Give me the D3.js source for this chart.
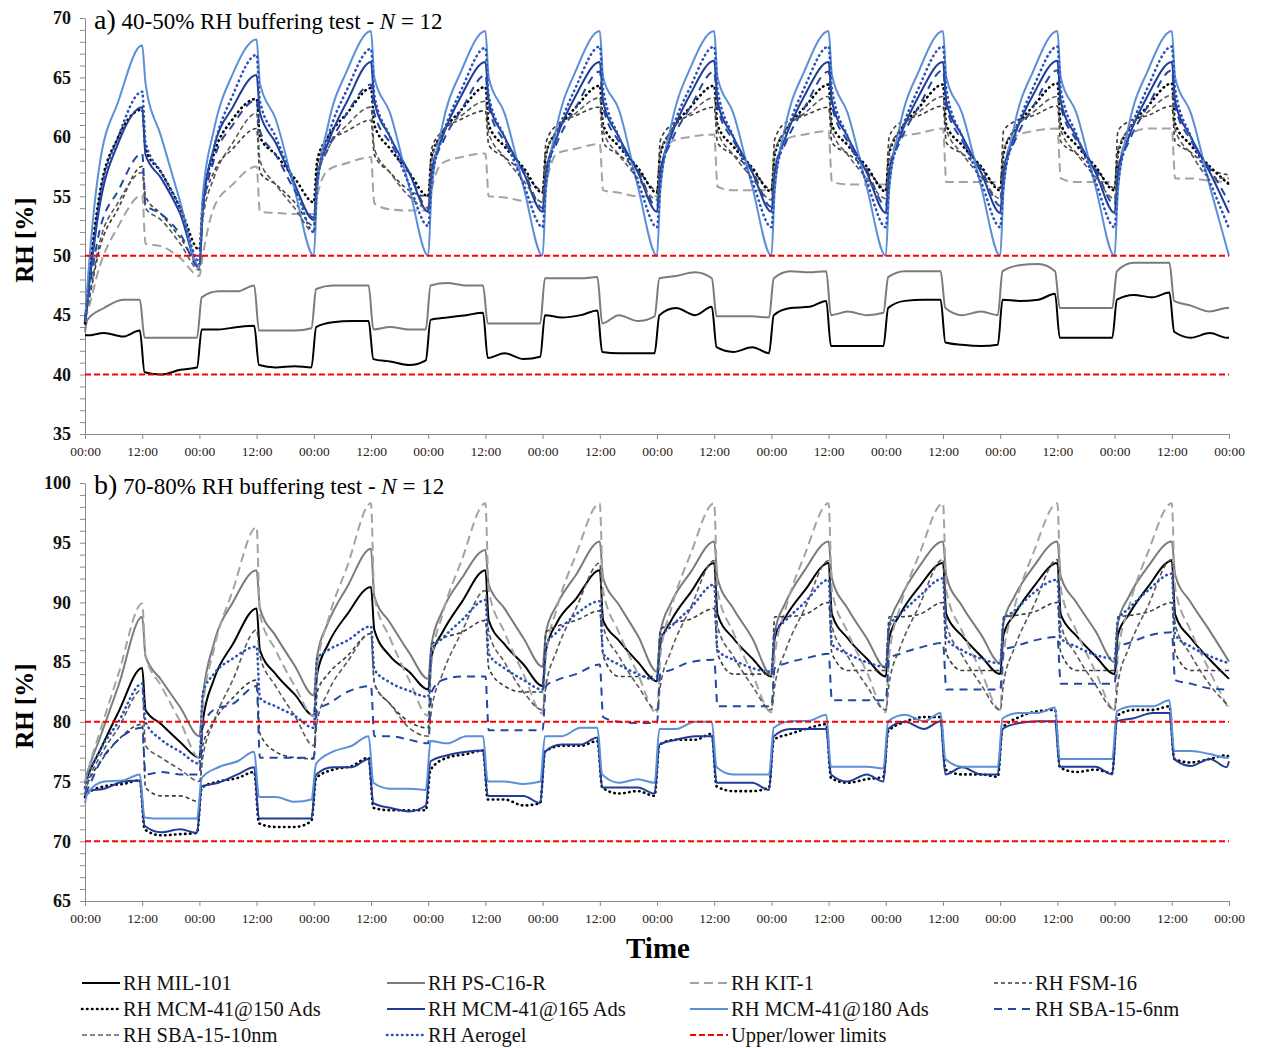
<!DOCTYPE html>
<html>
<head>
<meta charset="utf-8">
<script src="https://cdn.jsdelivr.net/npm/d3@7"></script>
<style>
  body { margin: 0; background: #ffffff; }
  svg text { font-family: "Liberation Serif", "Times New Roman", serif; }
</style>
</head>
<body>
<svg id="chart" width="1263" height="1048"></svg>
<script>
// ---- Time bases (hours since start of the 10-day test) ----
const sawHours = [
  0,0.7,3,7,12,12.7,16,20,
  24,24.7,27,31,36,36.7,40,44,
  48,48.7,51,55,60,60.7,64,68,
  72,72.7,75,79,84,84.7,88,92,
  96,96.7,99,103,108,108.7,112,116,
  120,120.7,123,127,132,132.7,136,140,
  144,144.7,147,151,156,156.7,160,164,
  168,168.7,171,175,180,180.7,184,188,
  192,192.7,195,199,204,204.7,208,212,
  216,216.7,219,223,228,228.7,232,236,
  240];
const sqHours = [
  0,
  0.5,4,8,11.5,12.5,16,20,23.5,
  24.5,28,32,35.5,36.5,40,44,47.5,
  48.5,52,56,59.5,60.5,64,68,71.5,
  72.5,76,80,83.5,84.5,88,92,95.5,
  96.5,100,104,107.5,108.5,112,116,119.5,
  120.5,124,128,131.5,132.5,136,140,143.5,
  144.5,148,152,155.5,156.5,160,164,167.5,
  168.5,172,176,179.5,180.5,184,188,191.5,
  192.5,196,200,203.5,204.5,208,212,215.5,
  216.5,220,224,227.5,228.5,232,236,239.5,
  240];
const tickHours = [0,12,24,36,48,60,72,84,96,108,120,132,144,156,168,180,192,204,216,228,240];
const tickLabels = ["00:00","12:00","00:00","12:00","00:00","12:00","00:00","12:00","00:00","12:00","00:00",
                    "12:00","00:00","12:00","00:00","12:00","00:00","12:00","00:00","12:00","00:00"];

// ---- a) 40-50% RH test ----
const aMIL = [43.3,
  43.3,43.5,43.2,43.7,40.2,40.0,40.4,40.6,
  43.8,43.8,44.0,44.1,40.8,40.6,40.7,40.6,
  44.0,44.4,44.5,44.5,41.3,41.1,40.8,41.2,
  44.6,44.8,45.0,45.2,41.4,41.8,41.3,41.5,
  45.0,44.8,45.0,45.4,41.9,41.8,41.8,41.8,
  45.0,45.6,45.0,45.7,42.3,41.9,42.3,41.8,
  45.0,45.6,45.7,46.2,42.4,42.4,42.4,42.4,
  45.6,46.2,46.3,46.3,42.7,42.5,42.4,42.5,
  46.3,46.2,46.3,46.8,43.1,43.1,43.1,43.1,
  46.3,46.7,46.5,46.9,43.6,43.1,43.5,43.1,
  43.1];
const aPS = [43.6,
  44.6,45.6,46.3,46.3,43.1,43.1,43.1,43.1,
  46.5,47.0,47.0,47.5,43.7,43.7,43.7,43.9,
  47.2,47.5,47.5,47.5,43.8,44.0,43.8,43.8,
  47.5,47.7,47.5,47.5,44.3,44.3,44.3,44.3,
  48.1,48.1,48.1,48.2,44.3,45.0,44.5,44.9,
  48.1,48.3,48.6,48.1,44.9,44.9,44.9,44.8,
  48.1,48.7,48.6,48.7,45.0,45.3,45.0,45.2,
  48.2,48.7,48.7,48.7,45.6,45.0,45.3,45.0,
  48.7,49.2,49.3,48.7,45.6,45.6,45.6,45.6,
  48.7,49.4,49.4,49.4,46.2,45.8,45.3,45.6,
  45.6];
const aKIT = [
  44.6,45.5,49,52.5,55.1,51,50.8,49.8,
  48.3,50,54,56,57.5,53.7,53.6,53.5,
  53.5,55,57.2,57.8,58.3,54.4,53.9,53.8,
  53.8,55.5,57.8,58.3,58.6,55,54.9,54.6,
  54.5,56,58.6,59,59.4,55.5,55.3,55,
  55,57,59.6,60,60.2,55.8,55.5,55.5,
  55.5,57.3,59.8,60.2,60.5,56.2,56,56,
  56,57.5,60,60.3,60.7,56.2,56.2,56.2,
  56.2,57.5,60,60.5,60.7,56.5,56.2,56.2,
  56.2,57.5,60.2,60.7,60.7,56.5,56.5,56.3,
  56.2];
const aFSM = [
  44.8,46,50.5,54,57.5,55,53.5,51.5,
  49.3,54,57,59,60.7,57,56,54.5,
  52.5,57.5,59.5,60.5,61.4,58.5,57,55.5,
  55,59,60.5,61.5,62.2,59.3,58.3,57,
  55.5,59.5,61,61.8,62.5,59.5,58.5,57.2,
  55.5,59.7,61,61.8,62.5,59.5,58.5,57.2,
  55.6,59.8,61.2,61.8,62.5,59.5,58.6,57.3,
  55.6,60,61.2,61.8,62.6,59.5,58.6,57.3,
  55.7,60.5,61.3,61.8,62.6,59.6,58.6,57.3,
  55.7,60.5,61.3,61.8,62.6,59.6,58.7,57.3,
  56.8];
const aMCM150 = [
  44.3,47.5,55,60,62.3,59,57,54,
  50.5,54.5,58.5,61.5,63.2,60,58.5,56.5,
  54.5,58,60,62,64.1,61,59,57,
  55,58.3,60.3,62.3,64.2,61,59.2,57.4,
  55.3,58.5,60.5,62.5,64.3,61,59.2,57.4,
  55.3,58.5,60.5,62.5,64.3,61,59.2,57.4,
  55.4,58.5,60.5,62.5,64.4,61,59.3,57.5,
  55.4,58.6,60.5,62.5,64.4,61,59.3,57.5,
  55.5,58.6,60.6,62.6,64.5,61.1,59.3,57.5,
  55.5,58.6,60.6,62.6,64.5,61.1,59.3,57.5,
  56];
const aMCM165 = [
  44.5,47,54,59.5,62.5,58.5,56.5,53.5,
  49,54,59,62.5,65.2,62,59.5,56,
  53,56.5,59.5,63,66.3,63,60,57,
  53.7,57,60,63.5,66.3,63,60,57,
  53.7,57,60,63.5,66.3,63,60,57,
  53.7,57,60.1,63.6,66.4,63,60,57,
  53.7,57,60,63.5,66.3,63,60,57,
  53.6,57,60,63.5,66.3,63,60.1,57,
  53.6,57,60.1,63.6,66.4,63,60,57,
  53.6,57,60,63.5,66.3,63,60,57,
  53.6];
const aMCM180 = [
  44.5,48.5,57.5,63,67.7,64.5,60,54.5,
  49,55,60.5,65.3,68.2,64.5,61.5,55.5,
  50,55.5,61,65.6,68.9,65,62,55.8,
  50,55.5,61,65.6,68.9,65,62,55.8,
  50,55.5,60.9,65.6,68.9,65,62.3,55.8,
  50,55.5,61,65.8,68.9,65,62,55.8,
  50,55.5,61,65.6,68.9,65.2,62,55.8,
  50,55.5,61,65.6,68.9,65,62,55.8,
  50,55.5,61,65.6,68.9,65,62,55.8,
  50,55.5,61,65.6,68.9,65,62,55.8,
  50];
const aSBA6 = [
  44.5,46.5,52,55.5,58.6,54.3,53.5,51.8,
  49,53.5,58,61,63.1,60.5,58.5,55.5,
  53.2,56.5,59,62,64.4,62,59.5,57,
  54,57,59.5,62.3,65.2,62.5,59.6,57.2,
  54,57,59.5,62.5,65.5,62.5,59.6,57.2,
  54.1,57,59.6,62.5,65.5,62.5,59.7,57.2,
  54.1,57,59.5,62.5,65.5,62.6,59.6,57.2,
  54.2,57.1,59.6,62.6,65.6,62.6,59.7,57.3,
  54.2,57.1,59.6,62.6,65.6,62.6,59.7,57.3,
  54.3,57.1,59.6,62.6,65.6,62.6,59.7,57.3,
  54.5];
const aSBA10 = [
  44.5,46,51,54.5,57,54,53,51,
  48.8,53,56.5,59.5,62,58,56,54,
  52,56.5,59,61,62.5,59,57,55,
  54,58,60.3,61.8,63,60.3,58.3,56.3,
  54.5,58.5,60.5,62,63.3,60.5,58.5,56.5,
  54.7,58.7,60.5,62,63.3,60.5,58.5,56.5,
  54.7,58.7,60.6,62,63.4,60.5,58.5,56.5,
  54.8,58.8,60.6,62.1,63.4,60.6,58.6,56.6,
  54.8,58.8,60.6,62.1,63.4,60.6,58.6,56.6,
  54.8,58.8,60.7,62.1,63.5,60.6,58.6,56.6,
  56.5];
const aAerogel = [
  44.5,47,54.5,60,63.8,59.5,57,54,
  49.5,54,59,63.5,66.9,63,60,56,
  52,56,60,64,67.4,63.5,60,56,
  52.5,56,60,64,67.5,63.5,60,56,
  52.4,56,60,64.2,67.6,64,60,56.2,
  52.4,56,60.2,64.2,67.6,64,60,56.2,
  52.4,56,60,64.2,67.6,64,60,56.2,
  52.4,56,60,64.2,67.6,64,60,56.2,
  52.4,56,60,64.2,67.6,64,60.2,56.2,
  52.4,56,60,64.2,67.6,64,60,56.2,
  52.3];
const aLimits = [40, 50];

// ---- b) 70-80% RH test ----
const bMIL = [
  74.8,75.6,77.5,80.8,84.5,81,79.8,78.3,
  77,80,83.5,86.5,89.5,86,84,82.3,
  80.5,84,86.5,89,91.3,87.7,85.5,84.2,
  82.7,85.5,87.5,90,92.7,88.5,86.5,84.8,
  83,86,88.3,90.3,92.7,88.5,86.8,85,
  83.4,86.5,88.5,90.8,93.3,89,87,85.3,
  83.8,87,88.8,91,93.3,89,87,85.3,
  83.8,87,89,91.3,93.3,89,87.2,85.5,
  84,87.3,89,91.3,93.3,89,87.2,85.5,
  84,87.3,89,91.3,93.5,89,87,85.2,
  83.6];
const bPS = [
  75,76,78.5,83,88.8,85.5,83.5,81.2,
  78.8,82,86.5,90,92.7,89.5,87.2,84.7,
  82.2,85.5,88.3,91.3,94.5,90.5,88.3,85.8,
  83.6,86.5,89.3,92,94.4,91.5,89.5,87,
  84.6,87.5,89.8,92.3,95.1,92,89.8,87.2,
  84.2,87.5,90,92.5,95.1,92,89.5,87,
  83.9,87.5,90,92.7,95.1,92,89.5,87,
  84.5,88,90.3,93,95.1,92.2,89.7,87.3,
  84.9,88.3,90.5,93,95.1,92.2,90,87.6,
  85,88.3,90.5,93,95.1,92.3,90,87.6,
  85.05];
const bKIT = [
  74.8,76,79,84,89.9,85.5,83,80,
  77,81,86,91,96.3,89,86,83,
  80.5,84.5,88.5,93,98.3,90.5,87,83.5,
  80.5,85,89,93.5,98.3,91,87.5,84,
  80.7,85.5,89.5,94,98.3,91,87.5,84,
  80.7,85.5,89.5,94,98.3,91,87.5,84,
  80.8,85.5,89.5,94,98.3,91,87.5,84.2,
  80.8,85.5,89.6,94,98.3,91,87.6,84.2,
  81,85.6,89.6,94.2,98.3,91.2,87.6,84.2,
  81,85.6,89.6,94.2,98.3,91.2,87.6,84.2,
  81];
const bFSM = [
  74.3,75,76.5,78.5,79.8,74.5,73.8,73.8,
  73.3,78,80,82,83.5,79,77.5,77,
  76.9,82.5,84,85.5,87.4,83.2,81.5,80,
  79.5,86.5,87,87.5,88.5,84.5,83,82.5,
  82.5,87.5,88,88.5,89.3,85.5,83.8,83.8,
  83.8,87.7,88.2,88.6,89.5,85.7,84,84,
  84,88.8,88.8,89,90,85.7,84.3,84.3,
  84.3,88.8,88.8,89,90,85.7,84.3,84.3,
  84.3,88.8,88.9,89.2,90,85.8,84.3,84.3,
  84.3,88.8,88.9,89.2,90,85.8,84.3,84.3,
  84.3];
const bMCM150 = [73.7,
  74.0,74.6,74.8,75.1,71.0,70.5,70.6,70.7,
  74.5,75.0,75.3,75.8,71.5,71.2,71.2,71.7,
  75.3,76.0,76.3,77.0,72.8,72.6,72.6,72.6,
  76.0,77.0,77.3,77.6,73.5,73.5,73.0,73.2,
  77.5,78.0,78.0,78.4,74.5,74.0,74.2,73.8,
  78.1,78.5,78.5,79.0,74.6,74.2,74.2,74.5,
  78.5,79.0,79.5,79.8,75.3,74.9,75.2,75.4,
  79.2,80.0,80.4,80.4,76.0,75.6,75.6,75.4,
  79.5,80.4,80.9,81.0,76.2,75.8,76.0,75.7,
  80.5,81.0,81.0,81.3,76.9,76.6,76.9,77.2,
  77.0];
const bMCM165 = [73.8,
  74.2,74.4,75.0,75.1,71.3,70.75,71.0,70.7,
  74.6,74.9,75.6,76.2,71.9,71.9,71.9,71.9,
  75.6,76.2,76.2,76.9,73.2,72.8,72.5,73.0,
  76.7,77.2,77.5,77.6,73.8,73.8,73.8,73.2,
  77.5,78.1,78.1,78.7,74.5,74.5,74.5,74.0,
  78.1,78.5,78.8,78.8,74.9,74.9,74.9,74.3,
  78.8,79.4,79.4,79.4,75.6,75.0,75.6,75.0,
  79.4,80.0,79.4,80.05,75.6,76.2,75.6,75.6,
  79.4,79.9,80.05,80.05,76.25,76.25,76.25,75.6,
  80.05,80.3,80.75,80.75,76.9,76.3,76.9,76.2,
  76.7];
const bMCM180 = [73.2,
  74.0,75.0,75.1,75.6,72.0,71.9,71.9,71.9,
  75.3,76.2,76.7,77.5,73.7,73.7,73.3,73.5,
  76.5,77.5,78.0,78.8,74.9,74.4,74.4,74.3,
  78.4,78.2,78.8,78.8,75.0,75.0,74.8,75.0,
  78.8,78.8,79.5,79.5,75.6,74.9,75.2,74.9,
  79.4,79.4,80.0,80.0,76.2,75.6,75.6,75.6,
  79.5,80.05,80.1,80.6,76.25,76.25,76.25,76.1,
  80.05,80.6,80.05,80.75,76.9,76.25,76.25,76.25,
  80.3,80.75,80.75,81.2,76.9,76.9,76.9,76.9,
  80.9,81.3,81.3,81.8,77.55,77.55,77.3,77.0,
  77.0];
const bSBA6 = [
  74,74.5,76.5,78.5,79.5,75.6,75.8,75.6,
  75.6,79.5,81,81.5,83,77,77,77,
  77,81,81.5,82.5,83,78.8,78.8,78.5,
  78.2,82.5,83.5,83.8,83.8,79.3,79.3,79.3,
  79.3,83,83.5,84,84.8,80.4,80,79.9,
  79.9,84,84.35,85,85.2,81.3,81.3,81.3,
  81.3,84.5,84.9,85.3,85.7,81.8,81.8,81.8,
  81.8,85.3,85.7,86.2,86.6,82.7,82.7,82.7,
  82.7,86,86.3,86.8,87.1,83.2,83.2,83.2,
  83.2,86.3,86.6,87.2,87.5,83.5,83.2,82.8,
  82.7];
const bSBA10 = [
  74,75,77,79.5,82.7,78,77,76,
  75,77,80,83.5,87.7,85.5,83,80.5,
  78,80,82.5,85,87.4,83.2,81.5,79.5,
  78.8,81,84,87.5,91,87.5,85,82.5,
  81,83,86,89.5,93.3,88,85.5,83,
  81,83,86,89.5,93.5,88,85.5,83,
  81,83,86,89.5,93.5,88,85.5,83,
  81,83.2,86.2,89.7,93.6,88.2,85.6,83.1,
  81,83.2,86.2,89.7,93.6,88.2,85.6,83.1,
  81,83.2,86.2,89.7,93.6,88.2,85.6,83.1,
  81.3];
const bAerogel = [
  74.5,75.5,77.5,80,83.2,80,78.5,77.5,
  76.5,82.4,84,85.3,86.3,82,81.3,80.5,
  79.5,85.3,86,86.8,88,84.4,83.3,82.6,
  82.1,86,87,88.5,90.2,85.7,84.5,83.5,
  82.7,86.5,87.5,89,90.1,85.7,84.8,84,
  83.5,87,88,89.5,91.5,86,85.2,84.5,
  84.2,87.5,88.5,90,91.9,86.5,85.7,85,
  84.6,88,89,90.5,92,87,86,85.3,
  84.9,88.5,89.3,90.8,91.9,87,86.3,85.6,
  85.3,88.5,89.5,91,92.4,87.3,86.3,85.5,
  84.9];
const bLimits = [70, 80];

// ---- Series names (legend order) ----
const seriesNames = ["RH MIL-101","RH PS-C16-R","RH KIT-1","RH FSM-16","RH MCM-41@150 Ads",
  "RH MCM-41@165 Ads","RH MCM-41@180 Ads","RH SBA-15-6nm","RH SBA-15-10nm","RH Aerogel","Upper/lower limits"];

// ---- Line styles ----
const styles = {
  "RH MIL-101":        {color:"#000000", width:2,   dash:null},
  "RH PS-C16-R":       {color:"#7b7b7b", width:2,   dash:null},
  "RH KIT-1":          {color:"#a3a3a3", width:2,   dash:"9,5"},
  "RH FSM-16":         {color:"#3c3c3c", width:1.6, dash:"4,3"},
  "RH MCM-41@150 Ads": {color:"#000000", width:2.6, dash:"0.5,4.5", cap:"round"},
  "RH MCM-41@165 Ads": {color:"#1f3d99", width:2,   dash:null},
  "RH MCM-41@180 Ads": {color:"#5b8fd8", width:2,   dash:null},
  "RH SBA-15-6nm":     {color:"#2148a3", width:2,   dash:"8,6"},
  "RH SBA-15-10nm":    {color:"#5a5a5a", width:1.6, dash:"5,3"},
  "RH Aerogel":        {color:"#2b52b8", width:2.6, dash:"0.5,4.5", cap:"round"},
  "Upper/lower limits":{color:"#ff0000", width:2,   dash:"6,3"}
};

const panels = [
  { label:"a)", title:"40-50% RH buffering test - ", top:18, bottom:434, domain:[35,70], limits:aLimits,
    series:{
      "RH MIL-101":[sqHours,aMIL], "RH PS-C16-R":[sqHours,aPS], "RH KIT-1":[sawHours,aKIT],
      "RH FSM-16":[sawHours,aFSM], "RH MCM-41@150 Ads":[sawHours,aMCM150],
      "RH MCM-41@165 Ads":[sawHours,aMCM165], "RH MCM-41@180 Ads":[sawHours,aMCM180],
      "RH SBA-15-6nm":[sawHours,aSBA6], "RH SBA-15-10nm":[sawHours,aSBA10], "RH Aerogel":[sawHours,aAerogel]
    }},
  { label:"b)", title:"70-80% RH buffering test - ", top:483, bottom:901, domain:[65,100], limits:bLimits,
    series:{
      "RH MIL-101":[sawHours,bMIL], "RH PS-C16-R":[sawHours,bPS], "RH KIT-1":[sawHours,bKIT],
      "RH FSM-16":[sawHours,bFSM], "RH MCM-41@150 Ads":[sqHours,bMCM150],
      "RH MCM-41@165 Ads":[sqHours,bMCM165], "RH MCM-41@180 Ads":[sqHours,bMCM180],
      "RH SBA-15-6nm":[sawHours,bSBA6], "RH SBA-15-10nm":[sawHours,bSBA10], "RH Aerogel":[sawHours,bAerogel]
    }}
];

const svg = d3.select("#chart");
const x = d3.scaleLinear().domain([0, 240]).range([85, 1229]);
const axisColor = "#8a8a8a";

function applyStyle(sel, st) {
  sel.attr("fill", "none")
     .attr("stroke", st.color)
     .attr("stroke-width", st.width)
     .attr("stroke-dasharray", st.dash)
     .attr("stroke-linecap", st.cap || "butt")
     .attr("stroke-linejoin", "round");
}

panels.forEach(p => {
  const y = d3.scaleLinear().domain(p.domain).range([p.bottom, p.top]);
  const g = svg.append("g");

  // y axis: minor tick every 1 %, labels every 5 %
  const yTicks = d3.range(p.domain[0], p.domain[1] + 1, 1);
  const yAxis = d3.axisLeft(y).tickValues(yTicks).tickSize(5).tickSizeOuter(0).tickPadding(9)
    .tickFormat(d => d % 5 === 0 ? d : "");
  const ya = g.append("g").attr("transform", "translate(85,0)").call(yAxis);
  ya.selectAll("path, line").attr("stroke", axisColor);
  ya.selectAll("text").attr("font-size", 18).attr("font-weight", "bold").attr("fill", "#111")
    .style("font-family", "'Liberation Serif', serif");

  // x axis: every 12 h
  const xAxis = d3.axisBottom(x).tickValues(tickHours).tickSize(5).tickSizeOuter(0).tickPadding(7)
    .tickFormat((d, i) => tickLabels[i]);
  const xa = g.append("g").attr("transform", `translate(0,${p.bottom})`).call(xAxis);
  xa.selectAll("path, line").attr("stroke", axisColor);
  xa.selectAll("text").attr("font-size", 13.5).attr("fill", "#2a2218")
    .style("font-family", "'Liberation Serif', serif");

  // y axis title
  g.append("text")
    .attr("transform", `translate(33,${(p.top + p.bottom) / 2 + 14}) rotate(-90)`)
    .attr("text-anchor", "middle")
    .attr("font-size", 25).attr("font-weight", "bold").attr("fill", "#000")
    .text("RH [%]");

  // panel heading
  const t = g.append("text").attr("x", 94).attr("y", p.top + 11).attr("fill", "#000");
  t.append("tspan").attr("font-size", 28).text(p.label);
  t.append("tspan").attr("font-size", 23).text(" " + p.title);
  t.append("tspan").attr("font-size", 23).attr("font-style", "italic").text("N");
  t.append("tspan").attr("font-size", 23).text(" = 12");

  // data lines
  const line = d3.line().x(d => x(d[0])).y(d => y(d[1])).curve(d3.curveMonotoneX);
  seriesNames.slice(0, 10).forEach(name => {
    const [hrs, vals] = p.series[name];
    const pts = hrs.map((h, i) => [h, vals[i]]);
    g.append("path").datum(pts).attr("d", line).call(applyStyle, styles[name]);
  });

  // limit lines
  p.limits.forEach(v => {
    g.append("path").datum([[0, v], [240, v]])
      .attr("d", d3.line().x(d => x(d[0])).y(d => y(d[1])))
      .call(applyStyle, styles["Upper/lower limits"]);
  });
});

// x axis title
svg.append("text").attr("x", 658).attr("y", 958).attr("text-anchor", "middle")
  .attr("font-size", 29).attr("font-weight", "bold").attr("fill", "#000").text("Time");

// legend, 4 columns x 3 rows
const legendCols = [82, 387, 690, 994];
const legendRows = [983, 1009, 1035];
const lg = svg.append("g");
seriesNames.forEach((name, i) => {
  const cx = legendCols[i % 4], cy = legendRows[Math.floor(i / 4)];
  lg.append("line").attr("x1", cx).attr("x2", cx + 38).attr("y1", cy).attr("y2", cy)
    .call(applyStyle, styles[name]);
  lg.append("text").attr("x", cx + 41).attr("y", cy + 7).attr("font-size", 20.5)
    .attr("fill", "#111").text(name);
});
</script>
</body>
</html>
